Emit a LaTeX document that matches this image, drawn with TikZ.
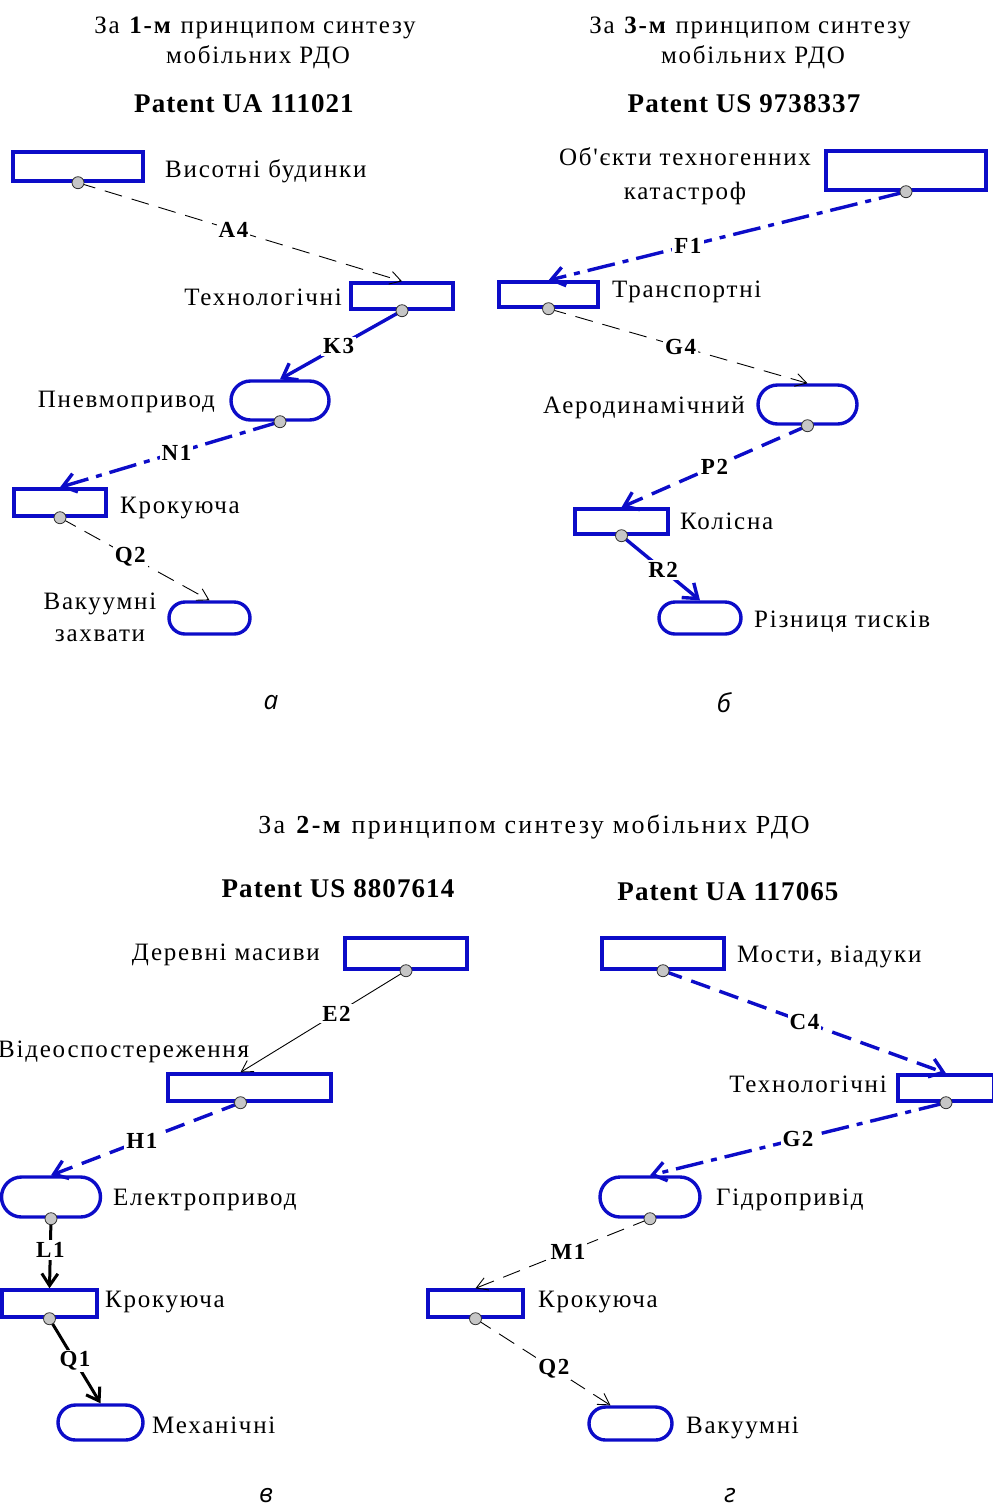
\documentclass[tikz,border=0pt]{standalone}
\usepackage{fontspec}
\setmainfont{Liberation Serif}[LetterSpace=7,Ligatures=TeXOff]
\newfontfamily\patfont{Liberation Serif}[LetterSpace=4]
\newfontfamily\subfont{Open Sans}
\usetikzlibrary{arrows.meta,shapes.misc}
\definecolor{rdoblue}{RGB}{12,12,200}
\newcommand\rdodot[1]{\filldraw[fill=gray!45,draw=gray!40!black,line width=0.8pt] (#1) circle (6pt);}

\begin{document}
\begin{tikzpicture}[x=1pt,y=-1pt,
  rbox/.style={draw=rdoblue,line width=3.4pt,inner sep=0pt},
  sbox/.style={rounded rectangle,draw=rdoblue,line width=3.4pt,inner sep=0pt},
  lbl/.style={inner sep=0pt,font=\fontsize{25}{32}\selectfont},
  ttl/.style={inner sep=0pt,font=\fontsize{25}{31}\selectfont},
  pat/.style={inner sep=0pt,font=\fontsize{27}{30}\selectfont\patfont\bfseries},
  sub/.style={inner sep=0pt,font=\fontsize{26}{30}\selectfont\subfont\itshape},
  clbl/.style={fill=white,text=black,inner sep=2pt,font=\fontsize{23}{26}\selectfont\bfseries},
  tdash/.style={black,line width=0.9pt,dash pattern=on 18pt off 10pt,-{Straight Barb[length=11pt,width=13pt]}},
  tsolid/.style={black,line width=0.9pt,-{Straight Barb[length=11pt,width=13pt]}},
  ksolid/.style={black,line width=3pt,-{Straight Barb[length=12pt,width=16pt]}},
  bsolid/.style={rdoblue,line width=3.4pt,-{Straight Barb[length=13pt,width=19pt]}},
  bdash/.style={rdoblue,line width=3.4pt,dash pattern=on 20pt off 10pt,-{Straight Barb[length=13pt,width=19pt]}},
  bdashdot/.style={rdoblue,line width=3.4pt,dash pattern=on 28pt off 8pt on 6pt off 8pt,-{Straight Barb[length=13pt,width=19pt]}}]
\useasboundingbox (0,0) rectangle (993,1508);

% ---- a: 1-й принцип
\node[ttl,anchor=base] at (255,33) {За \textbf{1-м} принципом синтезу};
\node[ttl,anchor=base] at (258,63) {мобільних РДО};
\node[pat,anchor=base] at (244,112) {Patent UA 111021};

\node[rbox,minimum width=130,minimum height=29] (vysotni) at (78,166.5) {};
\node[rbox,minimum width=102,minimum height=26] (tekhn) at (402,296) {};
\node[sbox,minimum width=98,minimum height=39] (pnevmo) at (280,400.5) {};
\node[rbox,minimum width=92,minimum height=27] (krok) at (60,502.5) {};
\node[sbox,minimum width=81,minimum height=32] (vakuum) at (209.5,618) {};

\node[lbl,anchor=base west] at (165,177) {Висотні будинки};
\node[lbl,anchor=base east] at (342,305) {Технологічні};
\node[lbl,anchor=base east] at (215,407) {Пневмопривод};
\node[lbl,anchor=base west] at (120,513) {Крокуюча};
\node[lbl,align=center] at (100,617) {Вакуумні\\захвати};

\draw[tdash] (vysotni.south) -- node[clbl,pos=0.48] {A4} (tekhn.north);
\draw[bsolid] (tekhn.south) -- node[clbl,pos=0.52] {K3} (pnevmo.north);
\draw[bdashdot] (pnevmo.south) -- node[clbl,pos=0.47] {N1} (krok.north);
\draw[tdash] (krok.south) -- node[clbl,pos=0.47] {Q2} (vakuum.north);
\rdodot{vysotni.south} \rdodot{tekhn.south} \rdodot{pnevmo.south} \rdodot{krok.south}

\node[sub] at (271,703) {а};

% ---- б: 3-й принцип
\node[ttl,anchor=base] at (750,33) {За \textbf{3-м} принципом синтезу};
\node[ttl,anchor=base] at (753,63) {мобільних РДО};
\node[pat,anchor=base] at (744,112) {Patent US 9738337};

\node[rbox,minimum width=160,minimum height=39] (obiekty) at (906,170.5) {};
\node[rbox,minimum width=99,minimum height=25] (transp) at (548.5,294.5) {};
\node[sbox,minimum width=99,minimum height=39] (aero) at (807.5,404.5) {};
\node[rbox,minimum width=93,minimum height=25] (kolisna) at (621.5,521.5) {};
\node[sbox,minimum width=82,minimum height=32] (riznytsia) at (700,618) {};

\node[lbl,align=center,font=\fontsize{25}{34}\selectfont] at (685,176) {Об'єкти техногенних\\катастроф};
\node[lbl,anchor=base west] at (612,297) {Транспортні};
\node[lbl,anchor=base east] at (745,413) {Аеродинамічний};
\node[lbl,anchor=base west] at (680,529) {Колісна};
\node[lbl,anchor=base west] at (754,627) {Різниця тисків};

\draw[bdashdot] (obiekty.south) -- node[clbl,pos=0.61] {F1} (transp.north);
\draw[tdash] (transp.south) -- node[clbl,pos=0.51] {G4} (aero.north);
\draw[bdash] (aero.south) -- node[clbl,pos=0.5] {P2} (kolisna.north);
\draw[bsolid] (kolisna.south) -- node[clbl,pos=0.53] {R2} (riznytsia.north);
\rdodot{obiekty.south} \rdodot{transp.south} \rdodot{aero.south} \rdodot{kolisna.south}

\node[sub] at (724,703) {б};

% ---- 2-й принцип
\node[ttl,anchor=base,font=\fontsize{26}{31}\selectfont\addfontfeatures{LetterSpace=9}] at (534,833) {За \textbf{2-м} принципом синтезу мобільних РДО};

% ---- в
\node[pat,anchor=base] at (338,897) {Patent US 8807614};

\node[rbox,minimum width=122,minimum height=31] (derevni) at (406,953.5) {};
\node[rbox,minimum width=163,minimum height=27] (video) at (249.5,1087.5) {};
\node[sbox,minimum width=99,minimum height=40] (elektro) at (51,1197) {};
\node[rbox,minimum width=95,minimum height=27] (krok2) at (49.5,1303.5) {};
\node[sbox,minimum width=85,minimum height=35] (mekh) at (100.5,1422.5) {};

\node[lbl,anchor=base east] at (320,960) {Деревні масиви};
\node[lbl,anchor=base west] at (-2,1057) {Відеоспостереження};
\node[lbl,anchor=base west] at (113,1205) {Електропривод};
\node[lbl,anchor=base west] at (105,1307) {Крокуюча};
\node[lbl,anchor=base west] at (152,1433) {Механічні};

\draw[tsolid] (derevni.south) -- node[clbl,pos=0.42] {E2} ([xshift=-9pt]video.north);
\draw[bdash] ([xshift=-9pt]video.south) -- node[clbl,pos=0.52] {H1} (elektro.north);
\draw[ksolid] (elektro.south) -- node[clbl,pos=0.45] {L1} (krok2.north);
\draw[ksolid] (krok2.south) -- node[clbl,pos=0.5] {Q1} (mekh.north);
\rdodot{derevni.south} \rdodot{[xshift=-9pt]video.south} \rdodot{elektro.south} \rdodot{krok2.south}

\node[sub] at (266,1496) {в};

% ---- г
\node[pat,anchor=base] at (728,900) {Patent UA 117065};

\node[rbox,minimum width=122,minimum height=31] (mosty) at (663,953.5) {};
\node[rbox,minimum width=96,minimum height=26] (tekhn2) at (946,1088) {};
\node[sbox,minimum width=100,minimum height=40] (hidro) at (650,1197) {};
\node[rbox,minimum width=95,minimum height=27] (krok3) at (475.5,1303.5) {};
\node[sbox,minimum width=83,minimum height=33] (vak2) at (630.5,1423.5) {};

\node[lbl,anchor=base west] at (737,962) {Мости, віадуки};
\node[lbl,anchor=base east] at (887,1092) {Технологічні};
\node[lbl,anchor=base west] at (716,1205) {Гідропривід};
\node[lbl,anchor=base west] at (538,1307) {Крокуюча};
\node[lbl,anchor=base west] at (686,1433) {Вакуумні};

\draw[bdash] (mosty.south) -- node[clbl,pos=0.5] {C4} (tekhn2.north);
\draw[bdashdot] (tekhn2.south) -- node[clbl,pos=0.5] {G2} (hidro.north);
\draw[tdash] (hidro.south) -- node[clbl,pos=0.47] {M1} (krok3.north);
\draw[tdash] (krok3.south) -- node[clbl,pos=0.58] {Q2} ([xshift=-20pt]vak2.north);
\rdodot{mosty.south} \rdodot{tekhn2.south} \rdodot{hidro.south} \rdodot{krok3.south}

\node[sub] at (730,1496) {г};
\end{tikzpicture}
\end{document}
